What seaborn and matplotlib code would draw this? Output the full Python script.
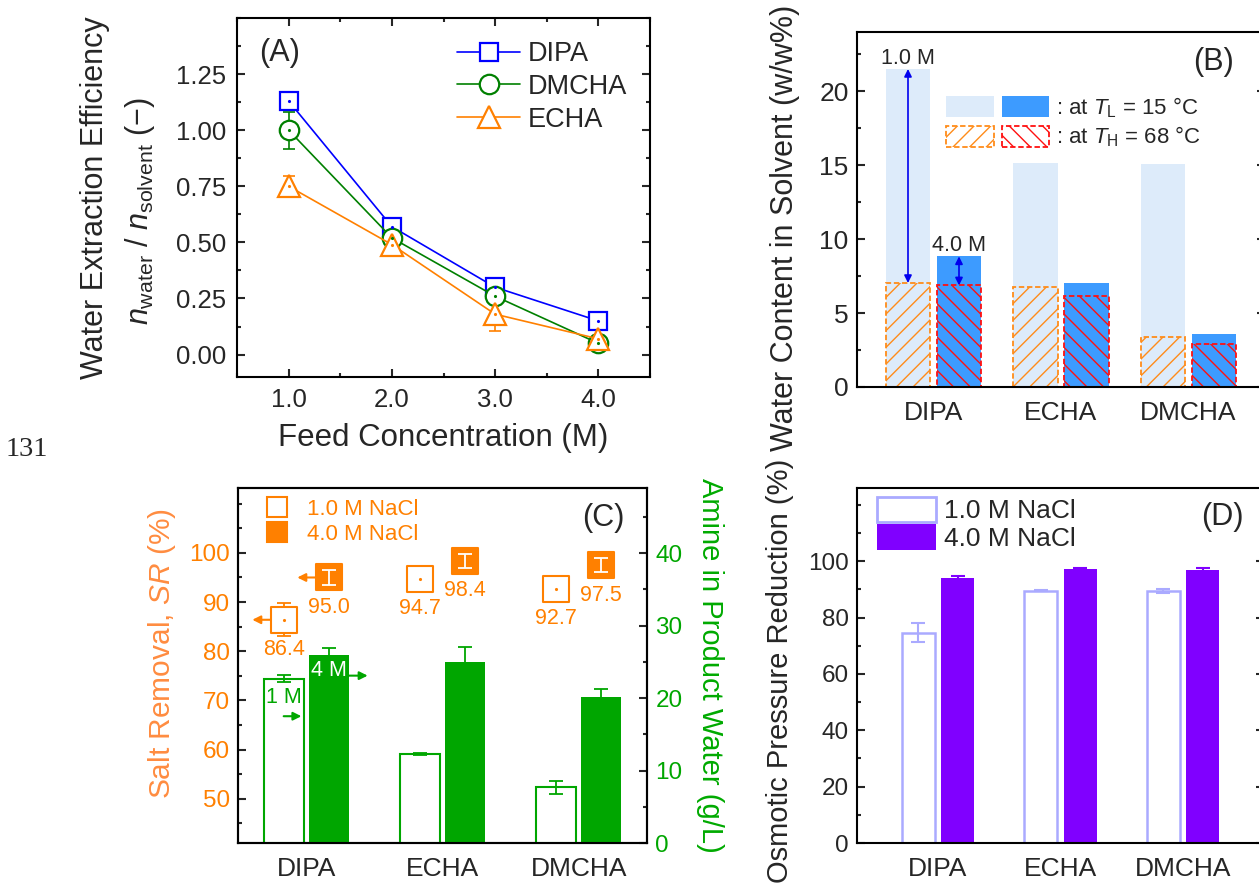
import numpy as np
import pandas as pd
import matplotlib
matplotlib.use('Agg')
import matplotlib.pyplot as plt
import matplotlib.patches as mpatches
from matplotlib.lines import Line2D
from matplotlib.legend_handler import HandlerTuple
from matplotlib.ticker import MultipleLocator, FormatStrFormatter
import seaborn as sns

# ---- values ----
# (A) water extraction efficiency vs feed concentration
feed_conc = [1.0, 2.0, 3.0, 4.0]
eff_dipa = [1.13, 0.57, 0.30, 0.15]
eff_dipa_err = [0.035, 0.02, 0.04, 0.025]
eff_dmcha = [1.00, 0.52, 0.26, 0.05]
eff_dmcha_err = [0.083, 0.03, 0.03, 0.03]
eff_echa = [0.75, 0.49, 0.18, 0.07]
eff_echa_err = [0.045, 0.05, 0.075, 0.04]

amines = ['DIPA', 'ECHA', 'DMCHA']
concs = ['1.0 M', '4.0 M']

# (B) water content in solvent (w/w%) at T_L and T_H
wc_low_1m = [21.5, 15.15, 15.05]
wc_low_4m = [8.83, 7.0, 3.57]
wc_high_1m = [7.03, 6.76, 3.38]
wc_high_4m = [6.87, 6.17, 2.88]

# (C) salt removal (%) and amine in product water (g/L)
sr_1m = [86.4, 94.7, 92.7]
sr_1m_err = [3.4, 2.3, 1.6]
sr_4m = [95.0, 98.4, 97.5]
sr_4m_err = [1.5, 1.4, 1.4]
amine_1m = [22.7, 12.3, 7.7]
amine_1m_err = [0.45, 0.12, 0.9]
amine_4m = [25.9, 25.0, 20.2]
amine_4m_err = [1.0, 2.1, 1.1]

# (D) osmotic pressure reduction (%)
opr_1m = [74.6, 89.6, 89.4]
opr_1m_err = [3.4, 0.3, 0.6]
opr_4m = [94.0, 97.2, 96.8]
opr_4m_err = [0.8, 0.3, 0.7]

# ---- style ----
sns.set_style('ticks')
plt.rcParams['font.family'] = ['Liberation Sans', 'DejaVu Sans']
plt.rcParams['mathtext.fontset'] = 'custom'
plt.rcParams['mathtext.rm'] = 'Liberation Sans'
plt.rcParams['mathtext.it'] = 'Liberation Sans:italic'
plt.rcParams['axes.linewidth'] = 1.5
plt.rcParams['hatch.linewidth'] = 1.0
plt.rcParams['axes.edgecolor'] = 'black'

BLUE, GREEN_A, ORANGE = '#0000FF', '#008000', '#FF8000'
LIGHT_BLUE, DARK_BLUE = '#DDEBFA', '#3D9BFF'
HATCH_OR, HATCH_RED = '#FF8C1A', '#FF1010'
GREEN = '#00A600'
LAVENDER, PURPLE = '#AAAAFF', '#8000FF'

W, H = 1259, 890
fig = plt.figure(figsize=(W / 100, H / 100), dpi=100)


def px_axes(l, t, r, b):
    return fig.add_axes([l / W, 1 - b / H, (r - l) / W, (b - t) / H])


def style_ticks(ax, size=17.5, pad=6):
    ax.tick_params(which='both', direction='in', width=1.5, labelsize=size, pad=pad)
    ax.tick_params(which='major', length=6)
    ax.tick_params(which='minor', length=3)


def bar_centers(container):
    return [p.get_x() + p.get_width() / 2 for p in container]


# ================= (A) =================
axA = px_axes(237, 18, 650, 377)
series_a = [('DIPA', eff_dipa, eff_dipa_err, 's', BLUE, 13),
            ('DMCHA', eff_dmcha, eff_dmcha_err, 'o', GREEN_A, 14),
            ('ECHA', eff_echa, eff_echa_err, '^', ORANGE, 16)]
for name, vals, errs, mk, c, ms in series_a:
    axA.errorbar(feed_conc, vals, yerr=errs, fmt='none', ecolor=c,
                 elinewidth=1.2, capsize=4, capthick=1.2, zorder=2)
    sns.lineplot(x=feed_conc, y=vals, ax=axA, color=c, marker=mk, markersize=ms,
                 markeredgecolor=c, markerfacecolor='white', markeredgewidth=1.6,
                 linewidth=1.2, label=name, zorder=3)
    axA.plot(feed_conc, vals, ls='none', marker='.', ms=2.5, color=c, zorder=4)

axA.set_xlim(0.5, 4.5)
axA.set_ylim(-0.1, 1.5)
axA.set_xticks(feed_conc)
axA.xaxis.set_minor_locator(MultipleLocator(0.5))
axA.set_yticks(np.arange(0, 1.3, 0.25))
axA.yaxis.set_minor_locator(MultipleLocator(0.125))
axA.xaxis.set_major_formatter(FormatStrFormatter('%.1f'))
axA.yaxis.set_major_formatter(FormatStrFormatter('%.2f'))
style_ticks(axA, size=18.5, pad=8)
axA.tick_params(which='both', top=True, right=True)
axA.set_xlabel('Feed Concentration (M)', fontsize=22.5, labelpad=8)
axA.set_ylabel('')
axA.legend(loc='upper right', bbox_to_anchor=(0.945, 0.935), frameon=False, fontsize=19.5,
           handlelength=2.3, handletextpad=0.3, labelspacing=0.245,
           borderpad=0, borderaxespad=0)
axA.text(0.104, 0.903, '(A)', transform=axA.transAxes, fontsize=22, ha='center', va='center')
fig.text(95 / W, 1 - 198 / H, 'Water Extraction Efficiency', rotation=90,
         fontsize=22, ha='center', va='center')
fig.text(140 / W, 1 - 211 / H,
         r'$\mathit{n}_{\mathrm{water}}$ / $\mathit{n}_{\mathrm{solvent}}$ (−)',
         rotation=90, fontsize=22, ha='center', va='center')
fig.text(27 / W, 1 - 450 / H, '131', family='Liberation Serif', fontsize=20.5,
         ha='center', va='center')

# ================= (B) =================
axB = px_axes(857, 32, 1265, 387)
df_low = pd.DataFrame({'amine': amines * 2, 'conc': np.repeat(concs, 3),
                       'val': wc_low_1m + wc_low_4m})
df_high = pd.DataFrame({'amine': amines * 2, 'conc': np.repeat(concs, 3),
                        'val': wc_high_1m + wc_high_4m})
sns.barplot(data=df_low, x='amine', y='val', hue='conc',
            palette={'1.0 M': LIGHT_BLUE, '4.0 M': DARK_BLUE}, saturation=1,
            width=0.8, gap=0.12, errorbar=None, legend=False, ax=axB, linewidth=0)
n0 = len(axB.containers)
sns.barplot(data=df_high, x='amine', y='val', hue='conc',
            palette={'1.0 M': HATCH_OR, '4.0 M': HATCH_RED}, saturation=1,
            width=0.8, gap=0.12, errorbar=None, legend=False, ax=axB, fill=False)
for cont, htch, c in zip(axB.containers[n0:], ['//', '\\\\'], [HATCH_OR, HATCH_RED]):
    for p in cont:
        p.set_facecolor('none')
        p.set_edgecolor(c)
        p.set_hatch(htch)
        if hasattr(p, 'set_hatchcolor'):
            p.set_hatchcolor(c)
        p.set_linestyle((0, (3, 1.5)))
        p.set_linewidth(1.3)

x_1m = bar_centers(axB.containers[0])
x_4m = bar_centers(axB.containers[1])
arrow_kw = dict(arrowstyle='<|-|>', color='#0000EE', lw=1.2, mutation_scale=11,
                shrinkA=0, shrinkB=0)
axB.annotate('', xy=(x_1m[0], wc_high_1m[0]), xytext=(x_1m[0], wc_low_1m[0]),
             arrowprops=arrow_kw)
axB.annotate('', xy=(x_4m[0], wc_high_4m[0]), xytext=(x_4m[0], wc_low_4m[0]),
             arrowprops=arrow_kw)
axB.annotate('1.0 M', xy=(x_1m[0], wc_low_1m[0]), xytext=(0, 7.5),
             textcoords='offset points', ha='center', va='center', fontsize=15.5)
axB.annotate('4.0 M', xy=(x_4m[0], wc_low_4m[0]), xytext=(0, 7.5),
             textcoords='offset points', ha='center', va='center', fontsize=15.5)

h_low = (mpatches.Patch(facecolor=LIGHT_BLUE, edgecolor='none'),
         mpatches.Patch(facecolor=DARK_BLUE, edgecolor='none'))
h_high = (mpatches.Patch(facecolor='none', edgecolor=HATCH_OR, hatch='//',
                         linestyle=(0, (3, 1.5)), linewidth=1.3),
          mpatches.Patch(facecolor='none', edgecolor=HATCH_RED, hatch='\\\\',
                         linestyle=(0, (3, 1.5)), linewidth=1.3))
axB.legend([h_low, h_high],
           [r': at $\mathit{T}_{\mathrm{L}}$ = 15 °C', r': at $\mathit{T}_{\mathrm{H}}$ = 68 °C'],
           handler_map={tuple: HandlerTuple(ndivide=None, pad=0.36)},
           loc='upper left', bbox_to_anchor=(0.218, 0.822), frameon=False, fontsize=16,
           handlelength=4.65, handleheight=1.08, handletextpad=0.3, labelspacing=0.22,
           borderpad=0, borderaxespad=0)

axB.set_xlim(-0.6, 2.6)
axB.set_ylim(0, 24)
axB.set_yticks(np.arange(0, 21, 5))
axB.yaxis.set_minor_locator(MultipleLocator(2.5))
style_ticks(axB, size=19, pad=6)
axB.tick_params(axis='y', which='both', right=True)
axB.tick_params(axis='x', which='both', length=0, labelsize=19, pad=10)
axB.set_xlabel('')
axB.set_ylabel('')
axB.text(0.873, 0.915, '(B)', transform=axB.transAxes, fontsize=22, ha='center', va='center')
fig.text(784.5 / W, 1 - 228 / H, 'Water Content in Solvent (w/w%)', rotation=90,
         fontsize=22, ha='center', va='center')

# ================= (C) =================
axC = px_axes(238, 488, 647, 843)
axC2 = axC.twinx()
df_amine = pd.DataFrame({'amine': amines * 2, 'conc': np.repeat(concs, 3),
                         'val': amine_1m + amine_4m})
sns.barplot(data=df_amine, x='amine', y='val', hue='conc',
            palette={'1.0 M': GREEN, '4.0 M': GREEN}, saturation=1,
            width=0.66, gap=0.115, errorbar=None, legend=False, ax=axC2)
for p in axC2.containers[0]:
    p.set_facecolor('white')
    p.set_edgecolor(GREEN)
    p.set_linewidth(1.5)
for p in axC2.containers[1]:
    p.set_edgecolor(GREEN)
    p.set_linewidth(0)
xc_1m = bar_centers(axC2.containers[0])
xc_4m = bar_centers(axC2.containers[1])
axC2.errorbar(xc_1m, amine_1m, yerr=amine_1m_err, fmt='none', ecolor=GREEN,
              elinewidth=1.3, capsize=5, capthick=1.3)
axC2.errorbar(xc_4m, amine_4m, yerr=amine_4m_err, fmt='none', ecolor=GREEN,
              elinewidth=1.3, capsize=5, capthick=1.3)

# salt removal markers on the left axis
axC.errorbar(xc_1m, sr_1m, yerr=sr_1m_err, fmt='none', ecolor=ORANGE,
             elinewidth=1.3, capsize=5, capthick=1.3, zorder=2)
sns.scatterplot(x=xc_1m, y=sr_1m, marker='s', s=340, color='white', edgecolor=ORANGE,
                linewidth=1.5, ax=axC, zorder=3)
axC.plot(xc_1m, sr_1m, ls='none', marker='.', ms=2.5, color=ORANGE, zorder=4)
sns.scatterplot(x=xc_4m, y=sr_4m, marker='s', s=340, color=ORANGE, edgecolor=ORANGE,
                linewidth=1.5, ax=axC, zorder=3)
axC.errorbar(xc_4m, sr_4m, yerr=sr_4m_err, fmt='none', ecolor='white',
             elinewidth=1.3, capsize=5, capthick=1.3, zorder=4)
for x, v in zip(xc_1m + xc_4m, sr_1m + sr_4m):
    axC.annotate(f'{v:.1f}', xy=(x, v), xytext=(0, -21.5), textcoords='offset points',
                 ha='center', va='center', color=ORANGE, fontsize=15.5)

or_arrow = dict(arrowstyle='-|>', color=ORANGE, lw=1.5, mutation_scale=12,
                shrinkA=0, shrinkB=0)
axC.annotate('', xy=(xc_1m[0] - 0.23, sr_1m[0]), xytext=(xc_1m[0] - 0.10, sr_1m[0]),
             arrowprops=or_arrow)
axC.annotate('', xy=(xc_4m[0] - 0.23, sr_4m[0]), xytext=(xc_4m[0] - 0.10, sr_4m[0]),
             arrowprops=or_arrow)

gr_arrow = dict(arrowstyle='-|>', color=GREEN, lw=1.5, mutation_scale=12,
                shrinkA=0, shrinkB=0)
p4 = axC2.containers[1][0]
axC2.annotate('', xy=(p4.get_x() + p4.get_width() + 0.14, 23.1),
              xytext=(p4.get_x() + p4.get_width(), 23.1), arrowprops=gr_arrow)
axC2.annotate('', xy=(xc_1m[0] + 0.13, 17.5), xytext=(xc_1m[0], 17.5),
              arrowprops=gr_arrow)
axC2.text(xc_4m[0], 23.8, '4 M', color='white', fontsize=15.5, ha='center', va='center')
axC2.text(xc_1m[0], 20.1, '1 M', color=GREEN, fontsize=15.5, ha='center', va='center')

axC.set_xlim(-0.5, 2.5)
axC.set_ylim(41, 113.2)
axC.set_yticks(np.arange(50, 101, 10))
axC.yaxis.set_minor_locator(MultipleLocator(5))
axC2.set_ylim(0, 49)
axC2.set_yticks(np.arange(0, 41, 10))
axC2.yaxis.set_minor_locator(MultipleLocator(5))
style_ticks(axC)
style_ticks(axC2)
axC.tick_params(axis='y', labelcolor=ORANGE)
axC2.tick_params(axis='y', labelcolor=GREEN)
axC.set_xticks(range(len(amines)))
axC.set_xticklabels(amines)
axC.tick_params(axis='x', which='both', length=0, labelsize=19, pad=10)
axC.set_xlabel('')
axC.set_ylabel('')
axC2.set_xlabel('')
axC2.set_ylabel('')

c_handles = [Line2D([], [], ls='none', marker='s', ms=14, mfc='white', mec=ORANGE, mew=1.5),
             Line2D([], [], ls='none', marker='s', ms=14, mfc=ORANGE, mec=ORANGE, mew=1.5)]
axC2.legend(c_handles, ['1.0 M NaCl', '4.0 M NaCl'], loc='upper left',
            bbox_to_anchor=(0.068, 0.97), frameon=False, fontsize=16, labelcolor=ORANGE,
            handlelength=1.0, handletextpad=0.85, labelspacing=0.2,
            borderpad=0, borderaxespad=0)
axC2.text(0.892, 0.915, '(C)', transform=axC2.transAxes, fontsize=22, ha='center', va='center')
fig.text(161.5 / W, 1 - 654 / H, r'Salt Removal, $\mathit{SR}$ (%)', rotation=90,
         fontsize=21.5, color='#FF8C40', ha='center', va='center')
fig.text(710 / W, 1 - 665 / H, 'Amine in Product Water (g/L)', rotation=270,
         fontsize=21, color='#00AA00', ha='center', va='center')

# ================= (D) =================
axD = px_axes(857, 488, 1264, 843)
df_opr = pd.DataFrame({'amine': amines * 2, 'conc': np.repeat(concs, 3),
                       'val': opr_1m + opr_4m})
sns.barplot(data=df_opr, x='amine', y='val', hue='conc',
            palette={'1.0 M': LAVENDER, '4.0 M': PURPLE}, saturation=1,
            width=0.645, gap=0.16, errorbar=None, legend=False, ax=axD)
for p in axD.containers[0]:
    p.set_facecolor('white')
    p.set_edgecolor(LAVENDER)
    p.set_linewidth(1.8)
for p in axD.containers[1]:
    p.set_edgecolor(PURPLE)
    p.set_linewidth(0)
xd_1m = bar_centers(axD.containers[0])
xd_4m = bar_centers(axD.containers[1])
axD.errorbar(xd_1m, opr_1m, yerr=opr_1m_err, fmt='none', ecolor=LAVENDER,
             elinewidth=1.5, capsize=5, capthick=1.5)
axD.errorbar(xd_4m, opr_4m, yerr=opr_4m_err, fmt='none', ecolor=PURPLE,
             elinewidth=1.5, capsize=5, capthick=1.5)

d_handles = [mpatches.Patch(facecolor='white', edgecolor=LAVENDER, linewidth=2),
             mpatches.Patch(facecolor=PURPLE, edgecolor=PURPLE, linewidth=0)]
axD.legend(d_handles, ['1.0 M NaCl', '4.0 M NaCl'], loc='upper left',
           bbox_to_anchor=(0.048, 0.976), frameon=False, fontsize=19,
           handlelength=2.25, handleheight=1.1, handletextpad=0.3, labelspacing=0.05,
           borderpad=0, borderaxespad=0)

axD.set_xlim(-0.66, 2.66)
axD.set_ylim(0, 126)
axD.set_yticks(np.arange(0, 101, 20))
axD.yaxis.set_minor_locator(MultipleLocator(10))
style_ticks(axD)
axD.tick_params(axis='y', which='both', right=True)
axD.tick_params(axis='x', which='both', length=0, labelsize=19, pad=10)
axD.set_xlabel('')
axD.set_ylabel('')
axD.text(0.897, 0.918, '(D)', transform=axD.transAxes, fontsize=22, ha='center', va='center')
fig.text(780 / W, 1 - 671 / H, 'Osmotic Pressure Reduction (%)', rotation=90,
         fontsize=21, ha='center', va='center')

fig.savefig('out.png', dpi=100)
